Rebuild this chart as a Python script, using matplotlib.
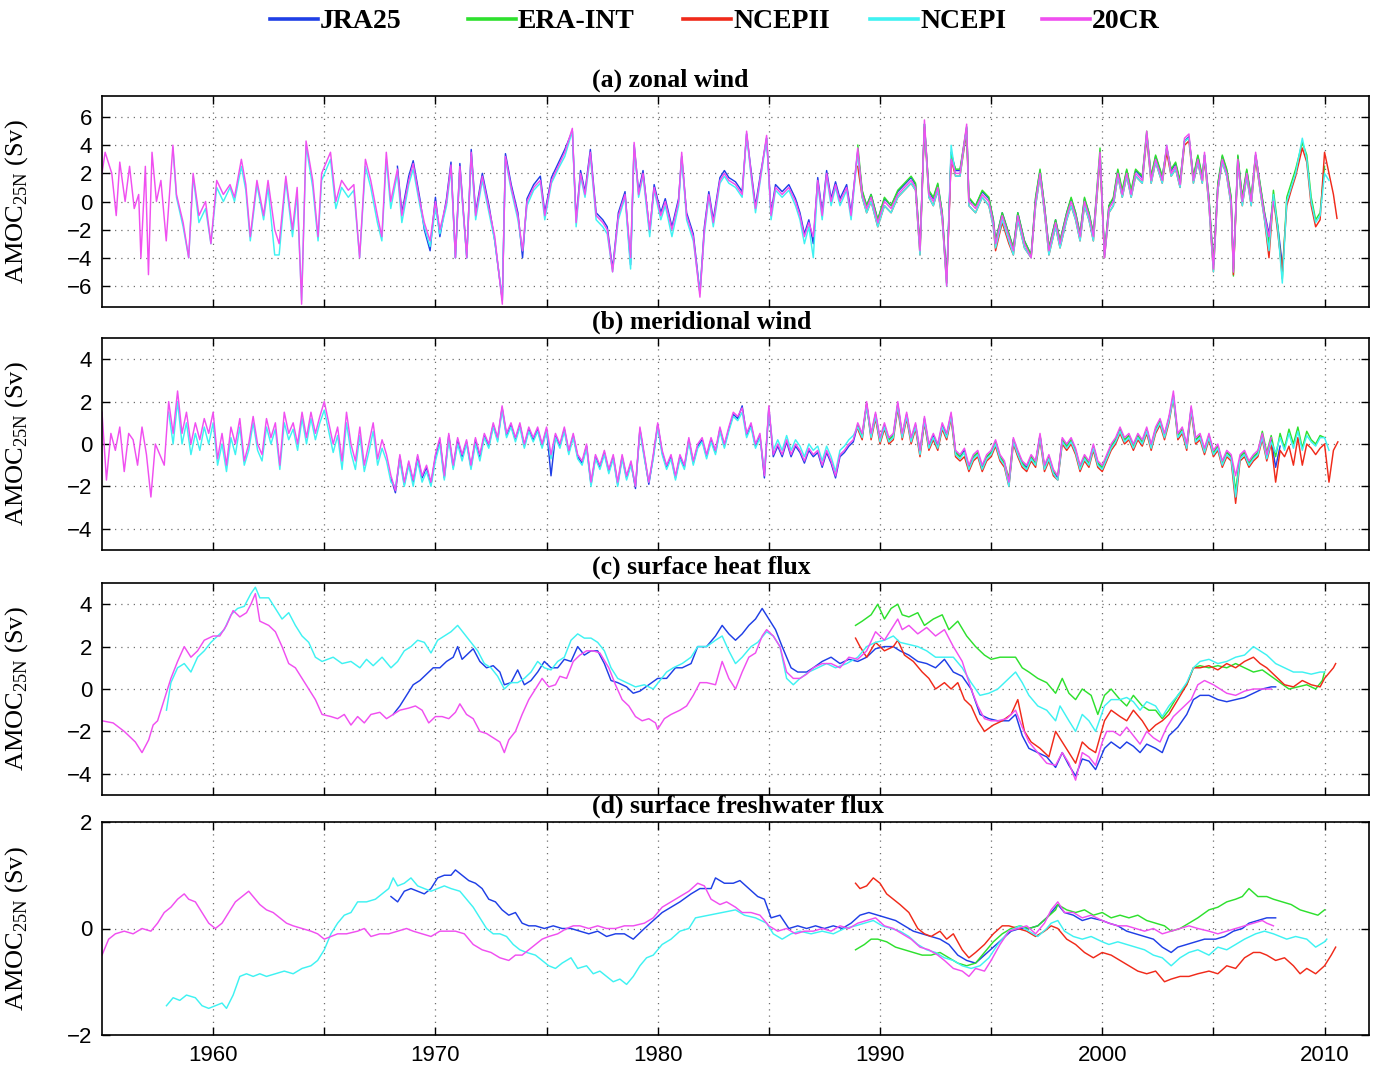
"""AMOC at 25N driven by each forcing component, five reanalysis products."""

import numpy as np
import matplotlib
matplotlib.use("Agg")
import matplotlib.pyplot as plt
from matplotlib.lines import Line2D

plt.rcParams["font.family"] = ["Liberation Sans", "DejaVu Sans"]
plt.rcParams["mathtext.fontset"] = "custom"
plt.rcParams["mathtext.rm"] = "Liberation Serif"

SERIF = "Liberation Serif"
PRODUCTS = ["JRA25", "ERA-INT", "NCEPII", "NCEPI", "20CR"]
COLORS = {
    "JRA25": "#1f3fe6",
    "ERA-INT": "#2ee02e",
    "NCEPII": "#f02a1a",
    "NCEPI": "#3ff2f2",
    "20CR": "#f04ff0",
}

# ---------------------------------------------------------------- (a) zonal wind
zonal_t = [
    1955.00, 1955.14, 1955.44, 1955.64, 1955.80, 1956.04, 1956.24, 1956.45, 1956.65, 1956.75,
    1956.95, 1957.09, 1957.25, 1957.45, 1957.65, 1957.89, 1958.19, 1958.35, 1958.65, 1958.90,
    1959.10, 1959.36, 1959.66, 1959.90, 1960.16, 1960.46, 1960.76, 1960.96, 1961.27, 1961.47,
    1961.67, 1961.97, 1962.27, 1962.47, 1962.77, 1962.97, 1963.27, 1963.57, 1963.78, 1963.98,
    1964.18, 1964.48, 1964.72, 1964.88, 1965.28, 1965.52, 1965.78, 1966.08, 1966.33, 1966.59,
    1966.85, 1967.09, 1967.39, 1967.59, 1967.79, 1967.99, 1968.29, 1968.49, 1968.80, 1969.00,
    1969.30, 1969.50, 1969.76, 1970.00, 1970.20, 1970.50, 1970.70, 1970.90, 1971.10, 1971.41,
    1971.61, 1971.81, 1972.11, 1972.41, 1972.67, 1973.01, 1973.15, 1973.41, 1973.71, 1973.92,
    1974.12, 1974.42, 1974.72, 1974.92, 1975.22, 1975.52, 1975.82, 1976.16, 1976.33, 1976.53,
    1976.73, 1976.97, 1977.23, 1977.53, 1977.73, 1977.97, 1978.23, 1978.53, 1978.78, 1978.94,
    1979.14, 1979.34, 1979.64, 1979.84, 1980.14, 1980.34, 1980.64, 1980.94, 1981.08, 1981.30,
    1981.60, 1981.90, 1982.10, 1982.30, 1982.50, 1982.80, 1983.00, 1983.20, 1983.50, 1983.80,
    1984.00, 1984.20, 1984.40, 1984.60, 1984.90, 1985.10, 1985.30, 1985.60, 1985.90, 1986.20,
    1986.40, 1986.60, 1986.80, 1987.00, 1987.20, 1987.40, 1987.60, 1987.80, 1988.00, 1988.20,
    1988.50, 1988.70, 1989.00, 1989.20, 1989.40, 1989.60, 1989.90, 1990.20, 1990.50, 1990.80,
    1991.10, 1991.40, 1991.60, 1991.80, 1992.00, 1992.20, 1992.40, 1992.60, 1992.80, 1993.00,
    1993.20, 1993.40, 1993.60, 1993.90, 1994.00, 1994.30, 1994.60, 1994.90, 1995.10, 1995.20,
    1995.50, 1995.80, 1996.00, 1996.20, 1996.50, 1996.80, 1997.00, 1997.20, 1997.40, 1997.60,
    1997.90, 1998.10, 1998.40, 1998.60, 1998.80, 1999.00, 1999.20, 1999.40, 1999.60, 1999.90,
    2000.10, 2000.30, 2000.50, 2000.70, 2000.90, 2001.10, 2001.30, 2001.50, 2001.80, 2002.00,
    2002.20, 2002.40, 2002.70, 2002.90, 2003.10, 2003.30, 2003.50, 2003.70, 2003.90, 2004.10,
    2004.30, 2004.50, 2004.60, 2004.80, 2005.00, 2005.20, 2005.40, 2005.60, 2005.80, 2005.90,
    2006.10, 2006.30, 2006.50, 2006.70, 2006.90, 2007.10, 2007.30, 2007.50, 2007.70, 2007.90,
    2008.10, 2008.30, 2008.50, 2008.70, 2009.00, 2009.20, 2009.40, 2009.60, 2009.80, 2010.00,
    2010.20, 2010.40, 2010.56,
]
zonal_start = {"JRA25": 1968.29, "ERA-INT": 1989.0, "NCEPII": 1989.0, "NCEPI": 1958.19, "20CR": 1955.0}

zonal_20cr = [
    2.0, 3.5, 2.0, -1.0, 2.8, 0.0, 2.5, -0.5, 0.5, -4.0,
    2.5, -5.2, 3.5, 0.0, 1.5, -2.8, 4.0, 0.5, -1.5, -4.0,
    2.0, -1.0, 0.0, -3.0, 1.5, 0.5, 1.2, 0.3, 3.0, 1.2,
    -2.5, 1.5, -1.0, 1.5, -2.0, -3.0, 1.8, -2.0, 1.0, -7.3,
    4.3, 1.5, -2.5, 2.0, 3.5, 0.0, 1.5, 0.8, 1.2, -4.0,
    3.0, 1.5, -1.0, -2.5, 3.5, 0.0, 2.3, -1.0, 1.5, 2.7,
    0.0, -1.5, -2.8, 0.0, -2.0, 0.0, 2.6, -4.0, 2.5, -4.0,
    3.5, -1.0, 1.8, -0.5, -2.5, -7.3, 3.2, 1.0, -1.0, -3.5,
    0.0, 1.0, 1.5, -1.0, 1.5, 2.5, 3.5, 5.2, -1.5, 2.0,
    0.5, 3.5, -1.0, -1.5, -2.0, -5.0, -1.0, 0.5, -4.0, 4.2,
    0.5, 2.0, -2.0, 1.0, -1.0, 0.0, -2.0, 0.0, 3.5, -1.0,
    -2.5, -6.8, -2.0, 0.5, -1.5, 1.5, 2.0, 1.5, 1.2, 0.5,
    5.0, 2.0, -0.5, 1.5, 4.7, -1.0, 1.0, 0.5, 1.0, 0.0,
    -1.0, -2.5, -1.5, -2.5, 1.5, -1.0, 2.0, 0.0, 1.2, 0.0,
    1.0, -1.0, 3.8, 0.5, -0.5, 0.3, -1.5, 0.0, -0.5, 0.5,
    1.0, 1.5, 1.0, -3.5, 5.8, 0.5, 0.0, 1.0, -1.0, -6.0,
    3.0, 2.0, 2.0, 5.5, 0.0, -0.5, 0.5, 0.0, -1.5, -3.0,
    -1.0, -2.5, -3.5, -1.0, -3.0, -4.0, 0.0, 2.0, -0.5, -3.5,
    -1.5, -3.0, -1.0, 0.0, -1.0, -2.5, 0.0, -1.0, -2.5, 3.5,
    -4.0, -0.5, 0.0, 2.0, 0.5, 2.0, 0.5, 2.0, 1.5, 5.0,
    1.5, 3.0, 1.5, 4.0, 2.0, 2.5, 1.2, 4.5, 4.8, 1.5,
    3.0, 1.5, 3.5, 0.0, -4.8, 1.0, 3.0, 2.0, 0.0, -5.0,
    3.0, 0.0, 2.0, 0.0, 3.5, 1.0, -1.0, -2.5, 0.0,
]
zonal_ncepi = [
    3.8, 0.3, -1.8, -4.0,
    1.8, -1.5, -0.5, -3.0, 1.0, 0.0, 1.0, 0.0, 2.5, 0.8,
    -2.8, 1.2, -1.3, 1.0, -3.8, -3.8, 1.5, -2.5, 0.5, -7.0,
    4.0, 1.0, -2.8, 1.5, 3.0, -0.5, 1.0, 0.3, 0.8, -4.0,
    2.5, 1.0, -1.5, -2.8, 3.0, -0.5, 2.0, -1.5, 1.2, 2.3,
    -0.3, -1.8, -3.2, -0.5, -2.3, -0.3, 2.3, -4.0, 2.2, -4.0,
    3.2, -1.3, 1.5, -0.8, -2.8, -7.0, 3.0, 0.8, -1.3, -3.5,
    -0.3, 0.8, 1.3, -1.3, 1.3, 2.3, 3.2, 5.0, -1.8, 1.8,
    0.3, 3.2, -1.3, -1.8, -2.3, -5.0, -1.3, 0.3, -4.8, 4.0,
    0.3, 1.8, -2.5, 0.8, -1.3, -0.3, -2.5, -0.3, 3.2, -1.3,
    -2.8, -6.5, -2.3, 0.3, -1.8, 1.3, 1.8, 1.3, 1.0, 0.3,
    4.8, 1.8, -0.8, 1.3, 4.5, -1.3, 0.8, 0.3, 0.8, -0.3,
    -1.3, -3.0, -1.8, -4.0, 1.3, -1.3, 1.8, -0.3, 1.0, -0.3,
    0.8, -1.3, 3.5, 0.3, -0.8, 0.0, -1.8, -0.3, -0.8, 0.3,
    0.8, 1.3, 0.8, -3.8, 5.5, 0.3, -0.3, 0.8, -1.3, -6.0,
    4.0, 1.8, 1.8, 5.3, -0.3, -0.8, 0.3, -0.3, -1.8, -3.3,
    -1.3, -2.8, -3.8, -1.3, -3.3, -4.0, -0.3, 1.8, -0.8, -3.8,
    -1.8, -3.3, -1.3, -0.3, -1.3, -2.8, -0.3, -1.3, -2.8, 3.3,
    -4.0, -0.8, -0.3, 1.8, 0.3, 1.8, 0.3, 1.8, 1.3, 4.8,
    1.3, 2.8, 1.3, 4.0, 1.8, 2.3, 1.0, 4.3, 4.5, 1.3,
    2.8, 1.3, 3.3, -0.3, -5.0, 0.8, 2.8, 1.8, -0.3, -5.0,
    2.8, -0.3, 1.8, -0.3, 3.3, 0.8, -1.3, -3.5, 0.5, -2.0,
    -5.8, 0.0, 1.0, 2.0, 4.5, 3.0, 0.0, -1.5, -1.0, 2.0,
    1.5,
]
zonal_jra25 = [
    2.5, -0.8, 1.8, 2.9,
    0.2, -2.0, -3.5, 0.3, -2.5, 0.2, 2.8, -4.0, 2.7, -4.0,
    3.7, -0.8, 2.0, -0.3, -2.8, -7.0, 3.4, 1.2, -0.8, -4.0,
    0.2, 1.2, 1.8, -0.8, 1.7, 2.7, 3.7, 5.0, -1.3, 2.2,
    0.7, 3.7, -0.8, -1.3, -1.8, -4.8, -0.8, 0.7, -4.5, 4.0,
    0.7, 2.2, -2.2, 1.2, -0.8, 0.2, -1.8, 0.2, 3.2, -0.8,
    -2.3, -6.5, -1.8, 0.7, -1.3, 1.7, 2.2, 1.7, 1.4, 0.7,
    4.8, 2.2, -0.3, 1.7, 4.5, -0.8, 1.2, 0.7, 1.2, 0.2,
    -0.8, -2.3, -1.3, -3.0, 1.7, -0.8, 2.2, 0.2, 1.4, 0.2,
    1.2, -0.8, 3.6, 0.7, -0.3, 0.5, -1.3, 0.2, -0.3, 0.7,
    1.2, 1.7, 1.2, -3.3, 5.5, 0.7, 0.2, 1.2, -0.8, -5.5,
    3.5, 2.2, 2.2, 5.2, 0.2, -0.3, 0.7, 0.2, -1.3, -2.8,
    -0.8, -2.3, -3.3, -0.8, -2.8, -3.8, 0.2, 2.2, -0.3, -3.3,
    -1.3, -2.8, -0.8, 0.2, -0.8, -2.3, 0.2, -0.8, -2.3, 3.3,
    -3.8, -0.3, 0.2, 2.2, 0.7, 2.2, 0.7, 2.2, 1.7, 4.8,
    1.7, 3.2, 1.7, 3.8, 2.2, 2.7, 1.4, 4.3, 4.6, 1.7,
    3.2, 1.7, 3.3, 0.2, -4.5, 1.2, 3.2, 2.2, 0.2, -4.8,
    3.2, 0.2, 2.2, 0.2, 3.3, 1.2, -0.8, -2.3, 0.2, -1.8,
    -4.5,
]
zonal_era = [
    4.0, 0.8, -0.3, 0.5, -1.3, 0.3, -0.3, 0.8,
    1.3, 1.8, 1.3, -3.3, 5.5, 0.8, 0.3, 1.3, -0.8, -5.8,
    3.3, 2.3, 2.3, 5.3, 0.3, -0.3, 0.8, 0.3, -1.3, -2.8,
    -0.8, -2.3, -3.3, -0.8, -2.8, -3.8, 0.3, 2.3, -0.3, -3.3,
    -1.3, -2.8, -0.8, 0.3, -0.8, -2.3, 0.3, -0.8, -2.3, 3.8,
    -3.8, -0.3, 0.3, 2.3, 0.8, 2.3, 0.8, 2.3, 1.8, 5.0,
    1.8, 3.3, 1.8, 3.8, 2.3, 2.8, 1.5, 4.3, 4.5, 1.8,
    3.3, 1.8, 3.3, 0.3, -4.5, 1.3, 3.3, 2.3, 0.3, -5.3,
    3.3, 0.3, 2.3, 0.3, 3.3, 1.3, -0.8, -3.0, 0.8, -1.8,
    -5.5, 0.3, 1.3, 2.3, 4.2, 3.3, 0.3, -1.3, -0.8, 2.5,
]
zonal_ncep2 = [
    2.5, 0.3, -0.8, 0.0, -1.8, -0.3, -0.8, 0.3,
    0.8, 1.3, 0.8, -3.8, 5.3, 0.3, -0.3, 0.8, -1.3, -5.8,
    3.0, 1.8, 1.8, 5.0, -0.3, -0.8, 0.3, -0.3, -1.8, -3.5,
    -1.5, -3.0, -3.8, -1.3, -3.3, -4.0, -0.3, 1.8, -0.8, -3.8,
    -1.8, -3.3, -1.3, -0.3, -1.3, -2.8, -0.3, -1.3, -2.8, 3.0,
    -4.0, -0.8, -0.3, 1.8, 0.3, 1.8, 0.3, 1.8, 1.3, 4.5,
    1.3, 2.8, 1.3, 3.5, 1.8, 2.3, 1.0, 4.0, 4.3, 1.3,
    2.8, 1.3, 3.0, -0.3, -5.0, 0.8, 2.8, 1.8, -0.3, -5.2,
    2.8, -0.3, 1.8, -0.3, 3.0, 0.8, -1.3, -4.0, 0.3, -2.3,
    -5.0, -0.3, 0.8, 1.8, 3.8, 2.8, -0.3, -1.8, -1.3, 3.5,
    2.0, 0.5, -1.2,
]

# ----------------------------------------------------------- (b) meridional wind
# sampled every 0.2 yr starting 1955.0
merid_first, merid_step = 1955.0, 0.2
merid_start = {"JRA25": 1968.0, "ERA-INT": 1989.0, "NCEPII": 1989.0, "NCEPI": 1958.0, "20CR": 1955.0}

merid_20cr = [
    1.5, -1.7, 0.5, -0.3, 0.8, -1.3, 0.5, 0.2, -1.0, 0.8,
    -0.5, -2.5, 0.0, -0.5, -1.0, 2.0, 0.5, 2.5, 0.5, 1.5,
    0.0, 1.0, 0.2, 1.2, 0.5, 1.5, -0.7, 0.5, -1.0, 0.8,
    0.0, 1.2, -0.8, 0.0, 1.3, 0.0, -0.5, 1.2, 0.3, 1.0,
    -1.0, 1.5, 0.5, 1.0, 0.0, 1.5, 0.3, 1.5, 0.5, 1.3,
    2.0, 1.0, 0.0, 0.8, -0.8, 1.5, 0.0, -0.8, 0.8, -1.0,
    0.0, 1.0, -0.7, 0.2, -0.5, -1.5, -2.2, -0.5, -1.8, -0.8,
    -1.7, -0.5, -1.5, -1.0, -1.8, -0.5, 0.3, -1.5, 0.5, -1.0,
    0.3, -0.5, 0.2, -1.0, 0.3, -0.5, 0.5, 0.0, 1.0, 0.3,
    1.8, 0.5, 1.0, 0.3, 1.0, 0.0, 0.8, 0.3, 0.8, 0.0,
    0.8, -0.5, 0.5, 0.0, 0.8, -0.3, 0.5, -0.5, -0.8, 0.0,
    -1.8, -0.5, -1.0, -0.3, -1.2, -0.5, -1.8, -0.5, -1.5, -0.8,
    -2.0, 0.8, -0.5, -1.8, -0.5, 1.0, -0.3, -1.0, -0.5, -1.5,
    -0.5, -1.0, 0.3, -0.8, 0.0, 0.3, -0.5, 0.3, -0.3, 0.8,
    0.0, 0.8, 1.5, 1.3, 1.7, 0.5, 1.0, 0.0, 0.5, -1.5,
    1.8, -0.5, 0.0, -0.5, 0.2, -0.5, 0.0, -0.3, -0.8, -0.2,
    -0.5, -0.3, -1.0, -0.3, -0.8, -1.5, -0.5, -0.3, 0.0, 0.2,
    1.0, 0.5, 2.0, 0.5, 1.5, 0.3, 1.0, 0.3, 0.5, 2.0,
    0.5, 1.5, 0.3, 1.0, -0.3, 1.3, 0.0, 0.5, 0.0, 1.0,
    0.5, 1.5, -0.3, -0.5, -0.2, -1.0, -0.5, -0.3, -1.0, -0.5,
    -0.3, 0.2, -0.5, -0.8, -1.8, 0.3, -0.3, -0.8, -1.0, -0.5,
    -0.8, 0.5, -1.0, -0.5, -1.2, -1.5, 0.3, 0.0, 0.3, -0.2,
    -1.0, -0.5, -0.8, 0.0, -0.8, -1.0, -0.5, 0.0, 0.3, 0.8,
    0.3, 0.5, 0.0, 0.5, 0.2, 0.8, 0.0, 0.8, 1.2, 0.5,
    1.3, 2.5, 0.5, 0.8, 0.0, 1.8, 0.3, 0.5, -0.2, 0.5,
    -0.3, 0.0, -0.8, -0.3, -0.5, -1.5, -0.5, -0.3, -0.8, -0.5,
    -0.3, 0.5, -0.5, 0.3,
]
merid_ncepi = [
    1.5, 0.0, 2.0, 0.0, 1.0,
    -0.5, 0.5, -0.3, 0.8, 0.0, 1.0, -1.0, 0.0, -1.3, 0.3,
    -0.5, 0.8, -1.0, -0.3, 1.0, -0.3, -0.8, 0.8, 0.0, 0.7,
    -1.2, 1.0, 0.2, 0.7, -0.3, 1.2, 0.0, 1.2, 0.2, 1.0,
    1.6, 0.6, -0.4, 0.4, -1.2, 1.0, -0.4, -1.2, 0.4, -1.3,
    -0.4, 0.6, -1.0, -0.2, -0.8, -1.8, -2.0, -0.8, -2.0, -1.0,
    -2.0, -0.8, -1.8, -1.3, -2.0, -0.8, 0.0, -1.7, 0.2, -1.2,
    0.0, -0.8, 0.0, -1.2, 0.0, -0.8, 0.3, -0.2, 0.8, 0.1,
    1.6, 0.3, 0.8, 0.1, 0.8, -0.2, 0.6, 0.1, 0.6, -0.2,
    0.6, -0.7, 0.3, -0.2, 0.6, -0.5, 0.3, -0.7, -1.0, -0.2,
    -2.0, -0.7, -1.2, -0.5, -1.4, -0.7, -2.0, -0.7, -1.7, -1.0,
    -2.0, 0.6, -0.7, -1.8, -0.7, 0.8, -0.5, -1.2, -0.7, -1.7,
    -0.7, -1.2, 0.1, -1.0, -0.2, 0.1, -0.7, 0.1, -0.5, 0.6,
    -0.2, 0.6, 1.3, 1.1, 1.5, 0.3, 0.8, -0.2, 0.3, -1.3,
    1.6, -0.3, 0.2, -0.3, 0.4, -0.3, 0.2, -0.1, -0.6, 0.0,
    -0.3, -0.1, -0.8, -0.1, -0.6, -1.3, -0.3, -0.1, 0.2, 0.4,
    0.8, 0.3, 1.8, 0.3, 1.3, 0.1, 0.8, 0.1, 0.3, 1.8,
    0.3, 1.3, 0.1, 0.8, -0.5, 1.1, -0.2, 0.3, -0.2, 0.8,
    0.3, 1.3, -0.5, -0.7, -0.4, -1.2, -0.7, -0.5, -1.2, -0.7,
    -0.5, 0.0, -0.7, -1.0, -2.0, 0.1, -0.5, -1.0, -1.2, -0.7,
    -1.0, 0.3, -1.2, -0.7, -1.4, -1.7, 0.1, -0.2, 0.1, -0.4,
    -1.2, -0.7, -1.0, -0.2, -1.0, -1.2, -0.7, -0.2, 0.1, 0.6,
    0.1, 0.3, -0.2, 0.3, 0.0, 0.6, -0.2, 0.6, 1.0, 0.3,
    1.1, 2.2, 0.3, 0.6, -0.2, 1.6, 0.1, 0.3, -0.4, 0.3,
    -0.5, -0.2, -1.0, -0.5, -0.7, -2.5, -0.7, -0.5, -1.0, -0.7,
    -0.5, 0.3, -0.7, 0.1, -0.4, 0.3, -0.3, 0.5, -0.2, 0.6,
    -0.3, 0.4, 0.1, -0.1, 0.3, 0.3, -0.3,
]
merid_jra25 = [
    -1.6, -2.3, -0.6, -1.9, -0.9,
    -1.8, -0.6, -1.6, -1.1, -1.9, -0.6, 0.2, -1.6, 0.4, -1.1,
    0.2, -0.6, 0.1, -1.1, 0.2, -0.6, 0.4, -0.1, 0.9, 0.2,
    1.7, 0.4, 0.9, 0.2, 0.9, -0.1, 0.7, 0.2, 0.7, -0.1,
    0.7, -1.5, 0.4, -0.1, 0.7, -0.4, 0.4, -0.6, -0.9, -0.1,
    -1.9, -0.6, -1.1, -0.4, -1.3, -0.6, -1.9, -0.6, -1.6, -0.9,
    -2.1, 0.7, -0.6, -1.9, -0.6, 0.9, -0.4, -1.1, -0.6, -1.6,
    -0.6, -1.1, 0.2, -0.9, -0.1, 0.2, -0.6, 0.2, -0.4, 0.7,
    -0.1, 0.7, 1.4, 1.2, 1.8, 0.4, 0.9, -0.1, 0.4, -1.6,
    1.7, -0.6, -0.1, -0.6, 0.1, -0.6, -0.1, -0.4, -0.9, -0.3,
    -0.6, -0.4, -1.1, -0.4, -0.9, -1.6, -0.6, -0.4, -0.1, 0.1,
    0.9, 0.4, 1.9, 0.4, 1.4, 0.2, 0.9, 0.2, 0.4, 1.9,
    0.4, 1.4, 0.2, 0.9, -0.4, 1.2, -0.1, 0.4, -0.1, 0.9,
    0.4, 1.4, -0.4, -0.6, -0.3, -1.1, -0.6, -0.4, -1.1, -0.6,
    -0.4, 0.1, -0.6, -0.9, -1.9, 0.2, -0.4, -0.9, -1.1, -0.6,
    -0.9, 0.4, -1.1, -0.6, -1.3, -1.6, 0.2, -0.1, 0.2, -0.3,
    -1.1, -0.6, -0.9, -0.1, -0.9, -1.1, -0.6, -0.1, 0.2, 0.7,
    0.2, 0.4, -0.1, 0.4, 0.1, 0.7, -0.1, 0.7, 1.1, 0.4,
    1.2, 2.3, 0.4, 0.7, -0.1, 1.7, 0.2, 0.4, -0.3, 0.4,
    -0.4, -0.1, -0.9, -0.4, -0.6, -2.5, -0.6, -0.4, -0.9, -0.6,
    -0.4, 0.4, -0.6, 0.2, -1.1, -0.1,
]
merid_era = [
    0.9, 0.4, 1.8, 0.4, 1.3, 0.2, 0.8, 0.2, 0.4, 1.8,
    0.4, 1.3, 0.2, 0.8, -0.4, 1.1, -0.2, 0.3, -0.2, 0.8,
    0.3, 1.3, -0.4, -0.6, -0.4, -1.2, -0.6, -0.4, -1.2, -0.6,
    -0.4, 0.1, -0.6, -0.9, -1.6, 0.2, -0.4, -0.9, -1.2, -0.6,
    -0.9, 0.4, -1.1, -0.6, -1.3, -1.5, 0.2, -0.1, 0.2, -0.3,
    -1.1, -0.6, -0.9, -0.1, -0.9, -1.1, -0.6, -0.1, 0.2, 0.7,
    0.2, 0.4, -0.1, 0.4, 0.1, 0.7, -0.1, 0.7, 1.1, 0.4,
    1.2, 2.2, 0.4, 0.7, -0.1, 1.6, 0.2, 0.4, -0.3, 0.4,
    -0.4, -0.1, -0.9, -0.4, -0.6, -2.2, -0.6, -0.4, -0.9, -0.6,
    -0.4, 0.6, -0.4, 0.4, -0.6, 0.5, -0.2, 0.7, 0.0, 0.8,
    -0.2, 0.6, 0.2, 0.0, 0.4, 0.3,
]
merid_ncep2 = [
    0.7, 0.2, 1.9, 0.2, 1.2, 0.0, 0.7, 0.0, 0.2, 1.7,
    0.2, 1.2, 0.0, 0.7, -0.6, 1.0, -0.3, 0.2, -0.3, 0.7,
    0.2, 1.2, -0.6, -0.8, -0.6, -1.3, -0.8, -0.6, -1.3, -0.8,
    -0.6, -0.1, -0.8, -1.1, -2.0, 0.0, -0.6, -1.1, -1.3, -0.8,
    -1.1, 0.2, -1.3, -0.8, -1.5, -1.7, 0.0, -0.3, 0.0, -0.5,
    -1.3, -0.8, -1.1, -0.3, -1.1, -1.3, -0.8, -0.3, 0.0, 0.5,
    0.0, 0.2, -0.3, 0.2, -0.1, 0.5, -0.3, 0.5, 0.9, 0.2,
    1.0, 2.2, 0.2, 0.5, -0.3, 1.5, 0.0, 0.2, -0.5, 0.2,
    -0.6, -0.3, -1.1, -0.6, -0.8, -2.8, -0.8, -0.6, -1.1, -0.8,
    -0.6, 0.2, -0.8, 0.0, -1.8, -0.3, -0.6, -0.1, -1.0, 0.3,
    -1.0, 0.0, -0.2, -0.5, -0.2, 0.0, -1.8, -0.3, 0.1,
]

# -------------------------------------------------------- (c) surface heat flux
# (year, Sv) pairs
heat_20cr = [
    (1955.0, -1.5), (1955.5, -1.6), (1956.0, -2.0), (1956.5, -2.5), (1956.8, -3.0), (1957.1, -2.4),
    (1957.3, -1.7), (1957.5, -1.5), (1957.8, -0.5), (1958.1, 0.5), (1958.4, 1.3), (1958.7, 2.0),
    (1959.0, 1.5), (1959.3, 1.8), (1959.6, 2.3), (1960.0, 2.5), (1960.3, 2.5), (1960.6, 3.0),
    (1960.9, 3.7), (1961.2, 3.4), (1961.5, 3.6), (1961.7, 4.0), (1961.9, 4.5), (1962.1, 3.2),
    (1962.5, 3.0), (1962.8, 2.7), (1963.1, 2.0), (1963.4, 1.2), (1963.7, 1.0), (1964.0, 0.5),
    (1964.3, 0.0), (1964.6, -0.5), (1964.9, -1.2), (1965.3, -1.3), (1965.6, -1.4), (1965.9, -1.2),
    (1966.2, -1.7), (1966.5, -1.3), (1966.8, -1.6), (1967.1, -1.2), (1967.5, -1.1), (1967.8, -1.4),
    (1968.1, -1.2), (1968.4, -1.0), (1968.8, -0.9), (1969.1, -0.8), (1969.4, -1.0), (1969.7, -1.6),
    (1970.0, -1.3), (1970.3, -1.3), (1970.6, -1.4), (1970.9, -1.1), (1971.1, -0.7), (1971.4, -1.2),
    (1971.7, -1.4), (1972.0, -2.0), (1972.3, -2.1), (1972.6, -2.3), (1972.9, -2.5), (1973.1, -3.0),
    (1973.3, -2.4), (1973.6, -2.0), (1973.9, -1.2), (1974.2, -0.5), (1974.5, 0.0), (1974.8, 0.5),
    (1975.1, 0.1), (1975.4, 0.2), (1975.6, 0.6), (1975.9, 0.5), (1976.2, 1.3), (1976.5, 1.6),
    (1976.8, 1.8), (1977.1, 1.8), (1977.4, 1.7), (1977.8, 1.0), (1978.1, 0.2), (1978.4, -0.5),
    (1978.7, -0.8), (1979.0, -1.3), (1979.3, -1.5), (1979.6, -1.4), (1979.9, -1.6), (1980.0, -1.9),
    (1980.3, -1.4), (1980.6, -1.2), (1981.0, -1.0), (1981.3, -0.8), (1981.6, -0.3), (1981.9, 0.3),
    (1982.2, 0.3), (1982.6, 0.2), (1982.9, 1.3), (1983.2, 0.5), (1983.5, 0.0), (1983.8, 0.8),
    (1984.1, 1.5), (1984.4, 1.7), (1984.7, 2.5), (1984.9, 2.8), (1985.2, 2.5), (1985.5, 2.0),
    (1985.8, 0.8), (1986.1, 0.5), (1986.4, 0.5), (1986.7, 0.7), (1987.0, 1.0), (1987.4, 1.2),
    (1987.8, 1.2), (1988.2, 1.0), (1988.6, 1.5), (1989.0, 1.4), (1989.4, 1.8), (1989.8, 2.7),
    (1990.2, 2.3), (1990.5, 2.8), (1990.8, 3.3), (1991.0, 2.8), (1991.3, 3.0), (1991.7, 2.6),
    (1992.1, 2.9), (1992.5, 2.5), (1992.9, 2.8), (1993.3, 2.0), (1993.7, 1.3), (1994.1, 0.0),
    (1994.4, -0.8), (1994.7, -1.4), (1995.0, -1.5), (1995.3, -1.5), (1995.7, -1.4), (1996.1, -1.0),
    (1996.4, -1.8), (1996.7, -2.5), (1997.1, -3.0), (1997.5, -3.5), (1997.9, -3.6), (1998.2, -3.0),
    (1998.5, -3.5), (1998.8, -4.3), (1999.1, -3.0), (1999.4, -3.2), (1999.7, -3.6), (2000.0, -2.5),
    (2000.2, -2.0), (2000.5, -2.0), (2000.8, -2.2), (2001.1, -1.8), (2001.4, -2.2), (2001.7, -2.6),
    (2002.0, -2.0), (2002.3, -2.3), (2002.6, -2.5), (2002.9, -1.8), (2003.2, -1.3), (2003.6, -0.9),
    (2004.0, -0.5), (2004.3, 0.2), (2004.6, 0.4), (2005.0, 0.2), (2005.3, 0.0), (2005.6, -0.2),
    (2006.0, -0.3), (2006.4, -0.1), (2006.8, 0.0), (2007.2, 0.0), (2007.6, 0.0),
]
heat_ncepi = [
    (1957.9, -1.0), (1958.1, 0.3), (1958.4, 1.0), (1958.7, 1.2), (1959.0, 0.8), (1959.3, 1.5),
    (1959.6, 1.8), (1959.9, 2.2), (1960.2, 2.5), (1960.5, 2.8), (1960.8, 3.5), (1961.1, 3.8),
    (1961.4, 3.9), (1961.7, 4.5), (1961.9, 4.8), (1962.1, 4.3), (1962.5, 4.3), (1962.8, 3.8),
    (1963.1, 3.3), (1963.4, 3.6), (1963.7, 3.0), (1964.0, 2.5), (1964.3, 2.2), (1964.6, 1.5),
    (1964.9, 1.3), (1965.4, 1.5), (1965.8, 1.2), (1966.2, 1.3), (1966.6, 1.0), (1966.9, 1.4),
    (1967.2, 1.1), (1967.6, 1.5), (1968.0, 1.0), (1968.3, 1.3), (1968.6, 1.8), (1968.9, 2.0),
    (1969.2, 2.3), (1969.5, 2.2), (1969.8, 1.7), (1970.1, 2.3), (1970.4, 2.5), (1970.7, 2.7),
    (1971.0, 3.0), (1971.3, 2.6), (1971.6, 2.2), (1971.9, 1.8), (1972.2, 1.2), (1972.5, 1.0),
    (1972.8, 0.6), (1973.1, 0.0), (1973.4, 0.3), (1973.7, 0.3), (1974.0, 0.5), (1974.3, 0.8),
    (1974.6, 1.3), (1974.9, 1.0), (1975.2, 0.9), (1975.5, 1.3), (1975.8, 1.5), (1976.1, 2.3),
    (1976.4, 2.6), (1976.7, 2.4), (1977.0, 2.4), (1977.3, 2.2), (1977.6, 1.8), (1977.9, 1.0),
    (1978.2, 0.5), (1978.6, 0.3), (1979.0, 0.1), (1979.4, 0.2), (1979.8, 0.0), (1980.1, 0.4),
    (1980.4, 0.8), (1980.7, 1.0), (1981.1, 1.2), (1981.5, 1.5), (1981.8, 2.0), (1982.2, 2.0),
    (1982.6, 2.3), (1982.9, 2.5), (1983.2, 1.8), (1983.5, 1.2), (1983.8, 1.5), (1984.2, 2.0),
    (1984.5, 2.2), (1984.9, 2.7), (1985.2, 2.5), (1985.5, 2.0), (1985.8, 0.5), (1986.1, 0.2),
    (1986.4, 0.5), (1986.8, 0.8), (1987.2, 1.0), (1987.6, 1.2), (1988.0, 1.0), (1988.5, 1.2),
    (1989.0, 1.5), (1989.4, 2.0), (1989.8, 2.2), (1990.2, 2.3), (1990.6, 2.5), (1990.9, 2.2),
    (1991.3, 2.1), (1991.7, 2.0), (1992.1, 1.8), (1992.5, 1.5), (1992.9, 1.5), (1993.3, 1.5),
    (1993.7, 1.0), (1994.1, 0.3), (1994.5, -0.3), (1994.9, -0.2), (1995.3, 0.0), (1995.8, 0.5),
    (1996.1, 0.8), (1996.4, 0.3), (1996.7, -0.3), (1997.1, -0.8), (1997.5, -1.0), (1997.9, -1.5),
    (1998.1, -0.8), (1998.5, -1.5), (1998.8, -2.0), (1999.1, -1.2), (1999.4, -1.5), (1999.7, -2.0),
    (2000.1, -0.8), (2000.4, -0.5), (2000.8, -0.5), (2001.1, -0.4), (2001.4, -0.6), (2001.7, -1.0),
    (2002.0, -0.6), (2002.4, -0.8), (2002.7, -1.3), (2003.0, -0.8), (2003.4, -0.3), (2003.8, 0.3),
    (2004.1, 1.0), (2004.4, 1.3), (2004.8, 1.4), (2005.2, 1.2), (2005.6, 1.3), (2006.0, 1.5),
    (2006.4, 1.6), (2006.8, 2.0), (2007.1, 1.8), (2007.4, 1.6), (2007.8, 1.2), (2008.2, 1.0),
    (2008.6, 0.8), (2009.0, 0.8), (2009.4, 0.7), (2009.8, 0.8), (2010.0, 0.8),
]
heat_jra25 = [
    (1968.1, -1.2), (1968.4, -0.8), (1968.7, -0.3), (1969.0, 0.2), (1969.3, 0.4), (1969.6, 0.7),
    (1969.9, 1.0), (1970.2, 1.0), (1970.5, 1.3), (1970.8, 1.5), (1971.0, 2.0), (1971.2, 1.4),
    (1971.5, 1.7), (1971.7, 1.9), (1972.0, 1.3), (1972.3, 1.0), (1972.6, 1.1), (1972.9, 0.8),
    (1973.1, 0.2), (1973.4, 0.3), (1973.7, 0.9), (1974.0, 0.2), (1974.3, 0.4), (1974.6, 0.8),
    (1974.9, 1.3), (1975.2, 1.0), (1975.5, 1.0), (1975.8, 1.4), (1976.1, 1.3), (1976.4, 2.0),
    (1976.7, 1.6), (1977.0, 1.8), (1977.3, 1.8), (1977.6, 1.2), (1977.9, 0.4), (1978.2, 0.3),
    (1978.6, 0.1), (1978.9, -0.2), (1979.2, -0.1), (1979.6, 0.2), (1980.0, 0.5), (1980.4, 0.5),
    (1980.8, 1.0), (1981.1, 1.0), (1981.5, 1.2), (1981.8, 2.0), (1982.2, 2.0), (1982.6, 2.5),
    (1982.9, 3.0), (1983.2, 2.6), (1983.5, 2.3), (1983.8, 2.6), (1984.1, 3.0), (1984.4, 3.3),
    (1984.7, 3.8), (1985.0, 3.3), (1985.3, 2.8), (1985.6, 2.0), (1986.0, 1.0), (1986.3, 0.8),
    (1986.7, 0.8), (1987.0, 1.0), (1987.4, 1.3), (1987.8, 1.5), (1988.2, 1.2), (1988.6, 1.4),
    (1989.0, 1.3), (1989.4, 1.5), (1989.8, 1.9), (1990.2, 2.0), (1990.6, 2.0), (1990.9, 1.8),
    (1991.3, 1.6), (1991.7, 1.3), (1992.1, 1.2), (1992.5, 1.0), (1992.9, 1.4), (1993.3, 0.8),
    (1993.7, 0.6), (1994.1, 0.0), (1994.5, -1.2), (1994.9, -1.4), (1995.3, -1.5), (1995.8, -1.5),
    (1996.1, -1.2), (1996.4, -2.2), (1996.7, -2.8), (1997.1, -3.0), (1997.5, -3.2), (1997.9, -3.7),
    (1998.2, -3.0), (1998.5, -3.6), (1998.8, -4.1), (1999.1, -3.3), (1999.4, -3.4), (1999.7, -3.8),
    (2000.1, -2.8), (2000.4, -2.5), (2000.8, -2.8), (2001.1, -2.5), (2001.4, -2.7), (2001.7, -3.0),
    (2002.0, -2.6), (2002.4, -2.8), (2002.7, -3.0), (2003.0, -2.2), (2003.4, -1.8), (2003.8, -1.2),
    (2004.1, -0.5), (2004.4, -0.3), (2004.8, -0.3), (2005.2, -0.5), (2005.6, -0.6), (2006.0, -0.5),
    (2006.4, -0.4), (2006.8, -0.2), (2007.2, 0.0), (2007.6, 0.1), (2007.8, 0.1),
]
heat_era = [
    (1988.9, 3.0), (1989.2, 3.2), (1989.6, 3.5), (1989.9, 4.0), (1990.2, 3.3), (1990.5, 3.8),
    (1990.8, 4.0), (1991.0, 3.5), (1991.3, 3.4), (1991.7, 3.6), (1992.0, 3.0), (1992.4, 3.3),
    (1992.8, 3.5), (1993.1, 2.8), (1993.5, 3.2), (1993.9, 2.5), (1994.3, 2.0), (1994.7, 1.6),
    (1995.0, 1.4), (1995.4, 1.5), (1995.8, 1.5), (1996.1, 1.5), (1996.4, 1.0), (1996.7, 0.8),
    (1997.1, 0.5), (1997.5, 0.3), (1997.9, -0.2), (1998.2, 0.5), (1998.5, -0.2), (1998.8, -0.5),
    (1999.1, 0.0), (1999.5, -0.3), (1999.8, -1.2), (2000.1, -0.3), (2000.4, 0.0), (2000.8, -0.5),
    (2001.1, -0.8), (2001.4, -0.3), (2001.8, -0.8), (2002.1, -1.0), (2002.4, -1.0), (2002.7, -1.4),
    (2003.0, -1.0), (2003.4, -0.3), (2003.8, 0.2), (2004.1, 1.0), (2004.4, 1.1), (2004.8, 1.0),
    (2005.2, 1.1), (2005.6, 1.0), (2006.0, 1.2), (2006.4, 1.0), (2006.8, 0.8), (2007.2, 0.9),
    (2007.6, 0.6), (2008.0, 0.3), (2008.4, 0.0), (2008.8, 0.1), (2009.2, 0.2), (2009.6, 0.0),
    (2009.9, 0.4), (2010.0, 0.8),
]
heat_ncep2 = [
    (1988.9, 2.4), (1989.1, 2.0), (1989.4, 1.5), (1989.8, 2.2), (1990.2, 1.8), (1990.6, 2.0),
    (1990.8, 2.3), (1991.1, 1.6), (1991.5, 1.3), (1991.9, 0.8), (1992.2, 0.5), (1992.5, 0.0),
    (1992.9, 0.3), (1993.2, 0.0), (1993.5, 0.3), (1993.8, -0.5), (1994.1, -0.8), (1994.4, -1.5),
    (1994.7, -2.0), (1995.1, -1.7), (1995.5, -1.5), (1995.9, -1.2), (1996.2, -0.5), (1996.5, -2.0),
    (1996.8, -2.5), (1997.2, -2.8), (1997.6, -3.2), (1997.9, -2.0), (1998.2, -2.5), (1998.5, -3.0),
    (1998.8, -3.5), (1999.1, -2.5), (1999.4, -2.8), (1999.7, -3.0), (2000.1, -1.5), (2000.4, -1.0),
    (2000.8, -1.3), (2001.1, -1.5), (2001.4, -1.0), (2001.8, -1.5), (2002.1, -2.0), (2002.4, -1.7),
    (2002.7, -1.5), (2003.0, -1.2), (2003.4, -0.5), (2003.8, 0.2), (2004.1, 1.0), (2004.4, 1.0),
    (2004.8, 1.1), (2005.2, 0.9), (2005.6, 1.2), (2006.0, 1.0), (2006.4, 1.3), (2006.8, 1.5),
    (2007.1, 1.2), (2007.4, 1.0), (2007.8, 0.6), (2008.2, 0.2), (2008.6, 0.1), (2009.0, 0.4),
    (2009.4, 0.2), (2009.8, 0.1), (2010.0, 0.5), (2010.4, 1.0), (2010.5, 1.2),
]

# -------------------------------------------------- (d) surface freshwater flux
fresh_20cr = [
    (1955.0, -0.5), (1955.3, -0.2), (1955.6, -0.1), (1956.0, -0.05), (1956.4, -0.1), (1956.8, 0.0),
    (1957.2, -0.05), (1957.5, 0.1), (1957.8, 0.3), (1958.1, 0.4), (1958.4, 0.55), (1958.7, 0.65),
    (1958.9, 0.55), (1959.2, 0.5), (1959.5, 0.3), (1959.8, 0.1), (1960.1, 0.0), (1960.4, 0.1),
    (1960.7, 0.3), (1961.0, 0.5), (1961.3, 0.6), (1961.6, 0.7), (1961.8, 0.6), (1962.1, 0.45),
    (1962.4, 0.35), (1962.7, 0.3), (1963.0, 0.2), (1963.3, 0.1), (1963.6, 0.05), (1964.0, 0.0),
    (1964.4, -0.05), (1964.7, -0.1), (1965.0, -0.2), (1965.3, -0.15), (1965.6, -0.1), (1966.0, -0.1),
    (1966.5, -0.05), (1966.8, 0.0), (1967.1, -0.15), (1967.5, -0.1), (1967.9, -0.1), (1968.3, -0.05),
    (1968.7, 0.0), (1969.0, -0.05), (1969.4, -0.1), (1969.8, -0.15), (1970.2, -0.05), (1970.5, -0.05),
    (1970.9, -0.05), (1971.3, -0.1), (1971.7, -0.3), (1972.1, -0.4), (1972.5, -0.45), (1972.9, -0.55),
    (1973.3, -0.6), (1973.6, -0.5), (1973.9, -0.5), (1974.2, -0.4), (1974.5, -0.3), (1974.8, -0.2),
    (1975.1, -0.15), (1975.5, -0.1), (1975.9, 0.0), (1976.2, 0.05), (1976.5, 0.05), (1976.9, 0.0),
    (1977.3, 0.05), (1977.7, 0.0), (1978.1, 0.0), (1978.5, 0.05), (1978.9, 0.05), (1979.4, 0.1),
    (1979.8, 0.2), (1980.2, 0.4), (1980.6, 0.5), (1981.0, 0.6), (1981.4, 0.7), (1981.8, 0.85),
    (1982.1, 0.8), (1982.4, 0.55), (1982.8, 0.45), (1983.1, 0.5), (1983.5, 0.4), (1983.8, 0.3),
    (1984.2, 0.3), (1984.6, 0.25), (1985.0, 0.05), (1985.4, -0.05), (1985.8, 0.0), (1986.2, -0.1),
    (1986.6, -0.05), (1987.0, -0.05), (1987.4, 0.0), (1987.8, -0.05), (1988.2, 0.05), (1988.6, 0.0),
    (1989.0, 0.1), (1989.4, 0.15), (1989.8, 0.2), (1990.2, 0.05), (1990.6, 0.0), (1991.0, -0.1),
    (1991.4, -0.2), (1991.8, -0.35), (1992.2, -0.4), (1992.6, -0.5), (1992.9, -0.6), (1993.3, -0.75),
    (1993.7, -0.8), (1994.0, -0.9), (1994.3, -0.75), (1994.7, -0.8), (1995.0, -0.6), (1995.4, -0.3),
    (1995.8, -0.05), (1996.2, 0.0), (1996.6, 0.05), (1997.0, -0.1), (1997.4, 0.1), (1997.7, 0.35),
    (1998.0, 0.5), (1998.3, 0.3), (1998.7, 0.3), (1999.1, 0.2), (1999.5, 0.25), (2000.0, 0.15),
    (2000.3, 0.1), (2000.7, 0.05), (2001.1, 0.05), (2001.5, 0.0), (2001.9, -0.05), (2002.3, 0.0),
    (2002.7, -0.1), (2003.1, -0.05), (2003.5, 0.0), (2003.9, 0.05), (2004.3, 0.0), (2004.8, -0.05),
    (2005.2, -0.1), (2005.6, -0.05), (2006.0, 0.0), (2006.4, 0.05), (2006.8, 0.1), (2007.2, 0.15),
    (2007.4, 0.1), (2007.7, 0.05),
]
fresh_ncepi = [
    (1957.9, -1.45), (1958.2, -1.3), (1958.5, -1.35), (1958.8, -1.25), (1959.2, -1.3), (1959.5, -1.45),
    (1959.8, -1.5), (1960.1, -1.45), (1960.4, -1.4), (1960.6, -1.5), (1960.9, -1.25), (1961.2, -0.9),
    (1961.5, -0.85), (1961.8, -0.9), (1962.1, -0.85), (1962.4, -0.9), (1962.8, -0.85), (1963.2, -0.8),
    (1963.6, -0.85), (1964.0, -0.75), (1964.4, -0.7), (1964.7, -0.6), (1965.0, -0.4), (1965.3, -0.1),
    (1965.6, 0.1), (1965.9, 0.25), (1966.2, 0.3), (1966.5, 0.5), (1966.9, 0.5), (1967.3, 0.55),
    (1967.6, 0.65), (1967.9, 0.75), (1968.1, 0.95), (1968.3, 0.8), (1968.6, 0.85), (1968.9, 0.95),
    (1969.2, 0.8), (1969.5, 0.75), (1969.8, 0.7), (1970.1, 0.75), (1970.4, 0.8), (1970.7, 0.75),
    (1971.1, 0.7), (1971.4, 0.55), (1971.7, 0.4), (1972.0, 0.2), (1972.3, 0.0), (1972.6, -0.1),
    (1972.9, -0.1), (1973.2, -0.15), (1973.5, -0.3), (1973.8, -0.4), (1974.1, -0.45), (1974.5, -0.5),
    (1974.8, -0.6), (1975.1, -0.7), (1975.4, -0.75), (1975.7, -0.65), (1976.1, -0.55), (1976.4, -0.75),
    (1976.8, -0.7), (1977.1, -0.85), (1977.4, -0.8), (1977.7, -0.9), (1978.0, -1.0), (1978.3, -0.95),
    (1978.6, -1.05), (1978.9, -0.9), (1979.2, -0.7), (1979.5, -0.55), (1979.8, -0.5), (1980.2, -0.3),
    (1980.6, -0.2), (1981.0, -0.05), (1981.4, 0.0), (1981.7, 0.2), (1982.3, 0.25), (1982.9, 0.3),
    (1983.5, 0.35), (1983.9, 0.25), (1984.4, 0.2), (1984.9, 0.1), (1985.2, -0.1), (1985.6, -0.2),
    (1986.0, -0.1), (1986.4, -0.05), (1986.9, -0.1), (1987.4, -0.05), (1987.9, -0.1), (1988.4, 0.0),
    (1988.9, 0.05), (1989.3, 0.1), (1989.7, 0.15), (1990.1, 0.05), (1990.5, 0.0), (1990.9, -0.05),
    (1991.3, -0.15), (1991.7, -0.3), (1992.1, -0.4), (1992.5, -0.45), (1992.9, -0.55), (1993.3, -0.6),
    (1993.7, -0.7), (1994.1, -0.75), (1994.5, -0.7), (1994.9, -0.55), (1995.3, -0.3), (1995.8, -0.05),
    (1996.3, 0.05), (1996.7, -0.05), (1997.1, -0.15), (1997.5, 0.0), (1997.7, 0.1), (1998.0, 0.15),
    (1998.3, -0.05), (1998.7, -0.15), (1999.1, -0.2), (1999.5, -0.15), (2000.0, -0.25), (2000.3, -0.3),
    (2000.7, -0.25), (2001.1, -0.3), (2001.5, -0.35), (2001.9, -0.4), (2002.3, -0.5), (2002.7, -0.55),
    (2003.1, -0.7), (2003.5, -0.55), (2003.9, -0.45), (2004.3, -0.4), (2004.8, -0.5), (2005.2, -0.35),
    (2005.6, -0.4), (2006.0, -0.3), (2006.4, -0.2), (2006.9, -0.1), (2007.3, -0.05), (2007.7, -0.1),
    (2008.3, -0.2), (2008.7, -0.15), (2009.2, -0.2), (2009.6, -0.35), (2010.0, -0.25), (2010.1, -0.2),
]
fresh_jra25 = [
    (1968.0, 0.6), (1968.3, 0.5), (1968.6, 0.7), (1968.9, 0.75), (1969.2, 0.7), (1969.5, 0.65),
    (1969.8, 0.75), (1970.1, 0.95), (1970.4, 1.0), (1970.7, 1.0), (1970.9, 1.1), (1971.2, 1.0),
    (1971.5, 0.9), (1971.8, 0.85), (1972.1, 0.75), (1972.4, 0.55), (1972.7, 0.5), (1973.0, 0.35),
    (1973.3, 0.25), (1973.6, 0.3), (1973.9, 0.1), (1974.2, 0.05), (1974.5, 0.05), (1974.9, 0.0),
    (1975.3, 0.05), (1975.7, 0.0), (1976.1, 0.0), (1976.5, -0.05), (1976.9, -0.1), (1977.3, -0.05),
    (1977.7, -0.15), (1978.1, -0.1), (1978.5, -0.1), (1978.9, -0.2), (1979.4, 0.0), (1979.8, 0.15),
    (1980.2, 0.3), (1980.6, 0.4), (1981.0, 0.5), (1981.5, 0.65), (1981.9, 0.75), (1982.4, 0.75),
    (1982.6, 0.95), (1983.0, 0.85), (1983.4, 0.85), (1983.7, 0.9), (1984.1, 0.75), (1984.5, 0.6),
    (1984.8, 0.55), (1985.1, 0.2), (1985.5, 0.25), (1985.9, 0.0), (1986.3, 0.05), (1986.7, 0.0),
    (1987.1, 0.05), (1987.5, 0.0), (1987.9, 0.05), (1988.3, 0.0), (1988.7, 0.1), (1989.1, 0.25),
    (1989.5, 0.3), (1989.9, 0.25), (1990.3, 0.2), (1990.7, 0.15), (1991.1, 0.05), (1991.5, -0.05),
    (1991.9, -0.1), (1992.3, -0.15), (1992.7, -0.2), (1993.1, -0.3), (1993.5, -0.5), (1993.9, -0.6),
    (1994.3, -0.65), (1994.7, -0.5), (1995.1, -0.35), (1995.5, -0.2), (1995.9, -0.05), (1996.3, 0.0),
    (1996.7, 0.0), (1997.1, 0.05), (1997.5, 0.2), (1997.9, 0.4), (1998.0, 0.45), (1998.3, 0.3),
    (1998.7, 0.25), (1999.1, 0.15), (1999.5, 0.2), (2000.0, 0.15), (2000.3, 0.1), (2000.7, 0.05),
    (2001.1, -0.05), (2001.5, -0.1), (2001.9, -0.15), (2002.3, -0.2), (2002.7, -0.35), (2003.1, -0.45),
    (2003.4, -0.35), (2003.8, -0.3), (2004.2, -0.25), (2004.6, -0.2), (2005.1, -0.2), (2005.5, -0.15),
    (2005.9, -0.05), (2006.3, 0.0), (2006.6, 0.1), (2007.0, 0.15), (2007.4, 0.2), (2007.8, 0.2),
]
fresh_era = [
    (1988.9, -0.4), (1989.3, -0.3), (1989.6, -0.2), (1989.9, -0.2), (1990.3, -0.25), (1990.7, -0.35),
    (1991.1, -0.4), (1991.5, -0.45), (1991.9, -0.5), (1992.3, -0.5), (1992.7, -0.45), (1993.1, -0.55),
    (1993.5, -0.65), (1993.9, -0.7), (1994.3, -0.65), (1994.7, -0.45), (1995.1, -0.25), (1995.5, -0.1),
    (1995.9, 0.0), (1996.3, 0.05), (1996.7, 0.0), (1997.1, 0.05), (1997.5, 0.2), (1997.9, 0.35),
    (1998.0, 0.45), (1998.4, 0.35), (1998.8, 0.3), (1999.2, 0.35), (1999.6, 0.25), (2000.0, 0.3),
    (2000.4, 0.2), (2000.8, 0.25), (2001.2, 0.2), (2001.6, 0.25), (2002.0, 0.15), (2002.4, 0.1),
    (2002.8, 0.05), (2003.1, -0.05), (2003.5, 0.0), (2003.9, 0.1), (2004.3, 0.2), (2004.8, 0.35),
    (2005.2, 0.4), (2005.6, 0.5), (2006.0, 0.55), (2006.3, 0.6), (2006.6, 0.75), (2007.0, 0.6),
    (2007.4, 0.6), (2007.7, 0.55), (2008.1, 0.5), (2008.5, 0.45), (2008.9, 0.35), (2009.3, 0.3),
    (2009.7, 0.25), (2010.0, 0.35),
]
fresh_ncep2 = [
    (1988.9, 0.85), (1989.1, 0.75), (1989.4, 0.8), (1989.7, 0.95), (1990.0, 0.85), (1990.3, 0.65),
    (1990.6, 0.55), (1990.9, 0.45), (1991.3, 0.3), (1991.7, 0.0), (1992.0, -0.1), (1992.3, -0.15),
    (1992.7, -0.05), (1993.0, -0.2), (1993.3, -0.1), (1993.7, -0.4), (1994.0, -0.55), (1994.3, -0.45),
    (1994.7, -0.3), (1995.1, -0.1), (1995.5, 0.05), (1995.8, 0.05), (1996.2, 0.0), (1996.6, -0.05),
    (1997.0, -0.15), (1997.4, -0.05), (1997.7, 0.05), (1998.0, 0.0), (1998.4, -0.2), (1998.8, -0.3),
    (1999.2, -0.45), (1999.6, -0.55), (2000.0, -0.45), (2000.4, -0.5), (2000.8, -0.6), (2001.2, -0.7),
    (2001.6, -0.8), (2002.0, -0.85), (2002.4, -0.8), (2002.8, -1.0), (2003.1, -0.95), (2003.5, -0.9),
    (2003.9, -0.9), (2004.3, -0.85), (2004.8, -0.8), (2005.2, -0.85), (2005.6, -0.7), (2006.0, -0.75),
    (2006.4, -0.55), (2006.8, -0.45), (2007.1, -0.45), (2007.4, -0.5), (2007.8, -0.6), (2008.2, -0.55),
    (2008.6, -0.7), (2008.9, -0.85), (2009.2, -0.75), (2009.6, -0.85), (2010.0, -0.7), (2010.3, -0.5),
    (2010.5, -0.35),
]

# ------------------------------------------------------------------- layout (px)
FIG_W, FIG_H = 1374, 1074
AX_LEFT, AX_RIGHT = 102, 1369
PANEL_ROWS = [(96, 307), (338, 550), (583, 795), (822, 1035)]  # top, bottom
TITLE_X = 592
LEGEND_LINES = [(270, 318), (468, 516), (683, 731), (870, 918), (1042, 1090)]
LEGEND_Y = 22


def on_grid(t, vals, start):
    """Place a series on a shared time axis beginning at the knot nearest `start`."""
    t = np.asarray(t, dtype=float)
    i0 = int(np.argmin(np.abs(t - start)))
    n = min(len(vals), len(t) - i0)
    return t[i0:i0 + n], np.asarray(vals[:n], dtype=float)


def style_axis(ax, ylim, yticks, title, last):
    ax.set_xlim(1955, 2012)
    ax.set_ylim(*ylim)
    ax.set_yticks(yticks)
    years = list(range(1960, 2011, 5))
    ax.set_xticks(years)
    if last:
        ax.set_xticklabels([str(y) if y % 10 == 0 else "" for y in years])
    else:
        ax.set_xticklabels([])
    ax.grid(True, linestyle=(0, (1, 4)), color="#6f6f6f", linewidth=0.9)
    ax.set_axisbelow(True)
    ax.tick_params(direction="in", top=True, right=True, length=6, width=1.0,
                   labelsize=16, pad=7)
    for sp in ax.spines.values():
        sp.set_linewidth(1.2)
    ax.set_ylabel(r"AMOC$_{\mathregular{25N}}$ (Sv)", fontsize=19, family=SERIF)
    ax.yaxis.set_label_coords((30 - AX_LEFT) / (AX_RIGHT - AX_LEFT), 0.5)
    ax.text((TITLE_X - AX_LEFT) / (AX_RIGHT - AX_LEFT), 1.018, title, transform=ax.transAxes,
            ha="left", va="bottom", fontsize=18.5, fontweight="bold", family=SERIF)


fig = plt.figure(figsize=(FIG_W / 100, FIG_H / 100), dpi=100)
axes = []
for top, bottom in PANEL_ROWS:
    rect = [AX_LEFT / FIG_W, 1 - bottom / FIG_H, (AX_RIGHT - AX_LEFT) / FIG_W, (bottom - top) / FIG_H]
    axes.append(fig.add_axes(rect))
ax_a, ax_b, ax_c, ax_d = axes

LW = 1.05

# (a)
zonal = {"JRA25": zonal_jra25, "ERA-INT": zonal_era, "NCEPII": zonal_ncep2,
         "NCEPI": zonal_ncepi, "20CR": zonal_20cr}
for name in PRODUCTS:
    t, v = on_grid(zonal_t, zonal[name], zonal_start[name])
    ax_a.plot(t, v, color=COLORS[name], lw=LW)
style_axis(ax_a, (-7.5, 7.5), [-6, -4, -2, 0, 2, 4, 6], "(a) zonal wind", False)

# (b)
merid = {"JRA25": merid_jra25, "ERA-INT": merid_era, "NCEPII": merid_ncep2,
         "NCEPI": merid_ncepi, "20CR": merid_20cr}
merid_t = np.round(merid_first + merid_step * np.arange(len(merid_20cr) + 15), 1)
for name in PRODUCTS:
    t, v = on_grid(merid_t, merid[name], merid_start[name])
    ax_b.plot(t, v, color=COLORS[name], lw=LW)
style_axis(ax_b, (-5, 5), [-4, -2, 0, 2, 4], "(b) meridional wind", False)

# (c)
heat = {"JRA25": heat_jra25, "ERA-INT": heat_era, "NCEPII": heat_ncep2,
        "NCEPI": heat_ncepi, "20CR": heat_20cr}
for name in PRODUCTS:
    arr = np.array(heat[name])
    ax_c.plot(arr[:, 0], arr[:, 1], color=COLORS[name], lw=LW)
style_axis(ax_c, (-5, 5), [-4, -2, 0, 2, 4], "(c) surface heat flux", False)

# (d)
fresh = {"JRA25": fresh_jra25, "ERA-INT": fresh_era, "NCEPII": fresh_ncep2,
         "NCEPI": fresh_ncepi, "20CR": fresh_20cr}
for name in PRODUCTS:
    arr = np.array(fresh[name])
    ax_d.plot(arr[:, 0], arr[:, 1], color=COLORS[name], lw=LW)
style_axis(ax_d, (-2, 2), [-2, 0, 2], "(d) surface freshwater flux", True)

# legend row across the top
for name, (x0, x1) in zip(PRODUCTS, LEGEND_LINES):
    y = 1 - LEGEND_Y / FIG_H
    fig.add_artist(Line2D([x0 / FIG_W, x1 / FIG_W], [y + 0.003, y + 0.003],
                          transform=fig.transFigure, color=COLORS[name], lw=2.6))
    fig.text((x1 + 2) / FIG_W, y, name, ha="left", va="center", fontsize=20,
             fontweight="bold", family=SERIF)

fig.savefig("out.png", dpi=100)
